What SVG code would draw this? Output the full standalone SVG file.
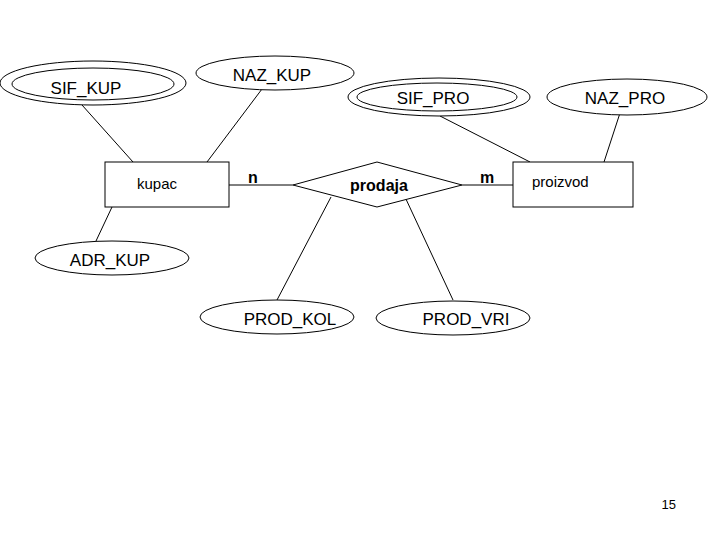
<svg xmlns="http://www.w3.org/2000/svg" width="720" height="540" viewBox="0 0 720 540">
<style>
.s{fill:#fff;stroke:#000;stroke-width:1}
.l{stroke:#000;stroke-width:1}
text{font-family:"Liberation Sans",Arial,sans-serif;fill:#000}
.a{font-size:17px;text-anchor:middle}
.e{font-size:15px}
.c{font-size:16px;font-weight:bold}
</style>
<rect width="720" height="540" fill="#fff"/>
<g id="connectors">
<line class="l" x1="82" y1="105" x2="133" y2="162"/>
<line class="l" x1="262" y1="89" x2="207" y2="162"/>
<line class="l" x1="440" y1="116" x2="530" y2="162"/>
<line class="l" x1="620" y1="113" x2="604" y2="162"/>
<line class="l" x1="229" y1="185" x2="293" y2="185"/>
<line class="l" x1="462" y1="185" x2="513" y2="185"/>
<line class="l" x1="112" y1="207" x2="96" y2="241"/>
<line class="l" x1="331" y1="197" x2="277" y2="300"/>
<line class="l" x1="405" y1="197" x2="453" y2="300"/>
<text class="c" x="248" y="183">n</text>
<text class="c" x="480" y="183">m</text>
</g>
<g id="SIF_KUP"><ellipse class="s" cx="93" cy="83" rx="93" ry="22"/><ellipse class="s" cx="93" cy="84" rx="81" ry="16"/><text class="a" x="86" y="94">SIF_KUP</text></g>
<g id="NAZ_KUP"><ellipse class="s" cx="275" cy="73" rx="79" ry="17"/><text class="a" x="272" y="81">NAZ_KUP</text></g>
<g id="SIF_PRO"><ellipse class="s" cx="439" cy="97" rx="91" ry="19"/><ellipse class="s" cx="437" cy="97" rx="80" ry="14"/><text class="a" x="433" y="104">SIF_PRO</text></g>
<g id="NAZ_PRO"><ellipse class="s" cx="627" cy="97" rx="80" ry="18"/><text class="a" x="625" y="104">NAZ_PRO</text></g>
<g id="kupac"><rect class="s" x="105" y="162" width="124" height="45"/><text class="e" x="137" y="189">kupac</text></g>
<g id="prodaja"><polygon class="s" points="293,185 377,162 462,185 377,207"/><text class="c" x="379" y="191" text-anchor="middle">prodaja</text></g>
<g id="proizvod"><rect class="s" x="513" y="162" width="120" height="45"/><text class="e" x="532" y="187">proizvod</text></g>
<g id="ADR_KUP"><ellipse class="s" cx="112" cy="258" rx="77" ry="17"/><text class="a" x="110" y="266">ADR_KUP</text></g>
<g id="PROD_KOL"><ellipse class="s" cx="277" cy="317" rx="77" ry="17"/><text class="a" x="290" y="325">PROD_KOL</text></g>
<g id="PROD_VRI"><ellipse class="s" cx="453" cy="318" rx="77" ry="17"/><text class="a" x="466" y="325">PROD_VRI</text></g>
<text x="676" y="509" font-size="13" text-anchor="end">15</text>
</svg>
